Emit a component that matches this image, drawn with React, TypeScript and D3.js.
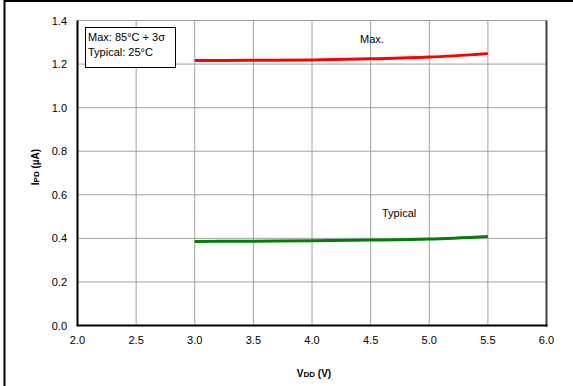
import React from "react";
import * as d3 from "d3";

const vdd = [3.0, 3.5, 4.0, 4.5, 5.0, 5.5];
const maxIpd = [1.216, 1.217, 1.219, 1.224, 1.232, 1.248];
const typIpd = [0.386, 0.387, 0.389, 0.392, 0.397, 0.409];
const xTicks = [2.0, 2.5, 3.0, 3.5, 4.0, 4.5, 5.0, 5.5, 6.0];
const yTicks = [0.0, 0.2, 0.4, 0.6, 0.8, 1.0, 1.2, 1.4];

const W = 573, H = 386;
const L = 77.5, R = 546.5, T = 20.5, B = 325.5;

export default function App() {
  const x = d3.scaleLinear().domain([2, 6]).range([L, R]);
  const y = d3.scaleLinear().domain([0, 1.4]).range([B, T]);
  const line = d3
    .line<number>()
    .x((_, i) => x(vdd[i]))
    .y((d) => y(d))
    .curve(d3.curveMonotoneX);
  const font = "Liberation Sans, Arial, sans-serif";
  return (
    <svg
      width={W}
      height={H}
      style={{ position: "absolute", left: 0, top: 0 }}
      fontFamily={font}
    >
      <rect x={0} y={0} width={W} height={H} fill="#fff" />
      <line x1={4.5} x2={W} y1={1} y2={1} stroke="#000" strokeWidth={2} />
      <line x1={4.5} x2={4.5} y1={0} y2={H} stroke="#000" strokeWidth={2} />
      {xTicks.map((t) => (
        <line key={"gx" + t} x1={x(t)} x2={x(t)} y1={T} y2={B} stroke="#a0a0a0" strokeWidth={1} />
      ))}
      {yTicks.map((t) => (
        <line key={"gy" + t} x1={L} x2={R} y1={y(t)} y2={y(t)} stroke="#a0a0a0" strokeWidth={1} />
      ))}
      <line x1={R} x2={R} y1={T} y2={B + 1} stroke="#404040" strokeWidth={2} />
      <line x1={L} x2={L} y1={T} y2={B} stroke="#000" strokeWidth={2} />
      <line x1={L - 1} x2={R + 1} y1={B} y2={B} stroke="#000" strokeWidth={2} />
      {yTicks.map((t) => (
        <text key={"ty" + t} x={67} y={y(t) + 4} fontSize={11} textAnchor="end" fill="#000">
          {t.toFixed(1)}
        </text>
      ))}
      {xTicks.map((t) => (
        <text key={"tx" + t} x={x(t)} y={344} fontSize={11} textAnchor="middle" fill="#000">
          {t.toFixed(1)}
        </text>
      ))}
      <path d={line(maxIpd) || ""} fill="none" stroke="#ff0000" strokeWidth={3} />
      <path d={line(typIpd) || ""} fill="none" stroke="#008000" strokeWidth={3} />
      <text x={360} y={43} fontSize={11} fill="#000">Max.</text>
      <text x={382} y={217} fontSize={11} fill="#000">Typical</text>
      <rect x={85.5} y={27.5} width={90} height={40} fill="#fff" stroke="#000" strokeWidth={1} />
      <text x={88} y={41} fontSize={11} fill="#000">Max: 85°C + 3σ</text>
      <text x={88} y={56} fontSize={11} fill="#000">Typical: 25°C</text>
      <text x={314} y={377} fontSize={10} fontWeight="bold" textAnchor="middle" fill="#000">
        V<tspan fontSize={8}>DD</tspan> (V)
      </text>
      <text
        transform={`translate(39,${167}) rotate(-90)`}
        fontSize={10}
        fontWeight="bold"
        textAnchor="middle"
        fill="#000"
      >
        I<tspan fontSize={8}>PD</tspan> (µA)
      </text>
    </svg>
  );
}
